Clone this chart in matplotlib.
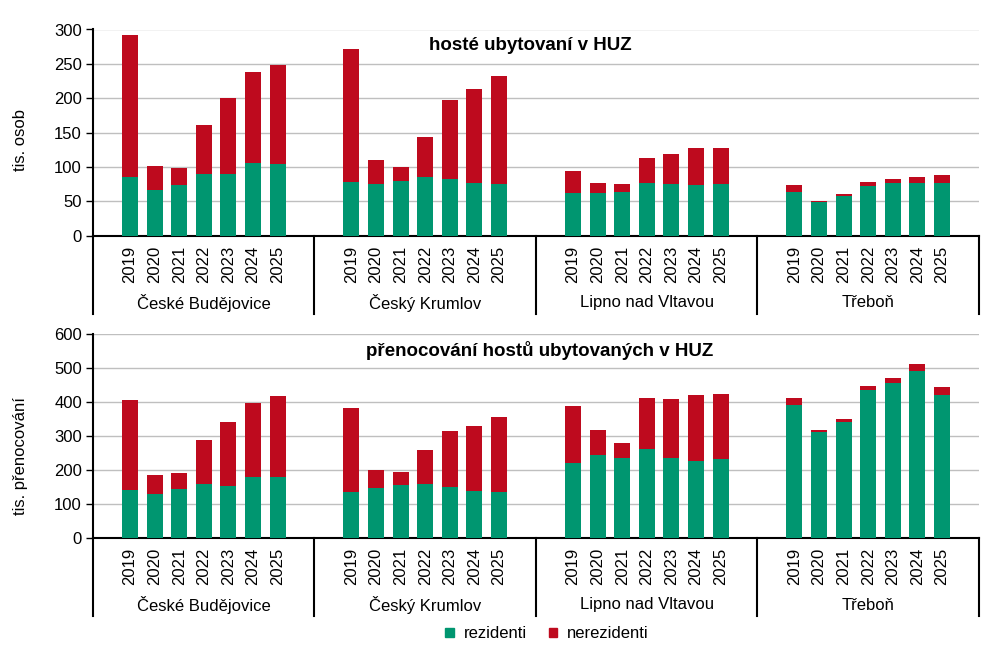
import matplotlib
matplotlib.use("Agg")
import matplotlib.pyplot as plt
from matplotlib.patches import Patch
import matplotlib.transforms as mtransforms

plt.rcParams['font.family'] = ['Liberation Sans', 'DejaVu Sans']

# Data (thousands)
towns = ["České Budějovice", "Český Krumlov", "Lipno nad Vltavou", "Třeboň"]
years = ["2019", "2020", "2021", "2022", "2023", "2024", "2025"]

# guests - residents / total
guests_res = [
    [85, 66, 74, 90, 90, 106, 104],
    [78, 75, 80, 85, 82, 77, 75],
    [62, 62, 64, 77, 75, 74, 75],
    [64, 49, 58, 72, 77, 77, 77],
]
guests_total = [
    [292, 101, 98, 161, 200, 238, 248],
    [271, 110, 100, 144, 197, 213, 232],
    [94, 77, 75, 113, 119, 128, 128],
    [74, 50, 61, 78, 82, 85, 88],
]

# overnight stays - residents / total
nights_res = [
    [141, 129, 144, 160, 153, 179, 179],
    [135, 147, 156, 159, 150, 138, 135],
    [221, 244, 236, 262, 236, 227, 232],
    [391, 313, 342, 436, 456, 491, 421],
]
nights_total = [
    [406, 185, 191, 288, 341, 397, 418],
    [382, 200, 194, 259, 315, 329, 356],
    [388, 318, 279, 412, 409, 421, 424],
    [412, 318, 350, 447, 471, 512, 444],
]

green = '#009670'
red = '#BE0A1E'
grid_c = '#BFBFBF'
W, H = 1004, 650

fig = plt.figure(figsize=(W / 100, H / 100), dpi=100)


def panel(rect_px, res, total, ymax, ystep, title, title_px, ylabel, label_y):
    left, top, right, bottom = rect_px
    ax = fig.add_axes([left / W, 1 - bottom / H, (right - left) / W, (bottom - top) / H])
    ax_h = bottom - top

    xs, labels = [], []
    for g in range(len(towns)):
        for i, yr in enumerate(years):
            xs.append(g * 9 + 1 + i)
            labels.append(yr)
    r = [v for row in res for v in row]
    n = [t - v for row_r, row_t in zip(res, total) for v, t in zip(row_r, row_t)]

    ax.bar(xs, r, width=0.65, color=green, zorder=3)
    ax.bar(xs, n, width=0.65, bottom=r, color=red, zorder=3)

    ax.set_xlim(-0.5, 35.5)
    ax.set_ylim(0, ymax)
    ax.set_yticks(range(0, ymax + 1, ystep))
    ax.yaxis.grid(True, color=grid_c, linewidth=1.0, zorder=0)
    ax.set_axisbelow(True)
    for s in ['top', 'right']:
        ax.spines[s].set_visible(False)
    ax.spines['left'].set_linewidth(1.5)
    ax.spines['bottom'].set_linewidth(1.5)
    ax.tick_params(axis='y', labelsize=12, length=5, width=1, pad=3, colors='black')
    ax.set_xticks(xs)
    ax.set_xticklabels(labels, rotation=90, fontsize=12)
    ax.tick_params(axis='x', length=0, pad=7)

    ax.set_ylabel(ylabel, fontsize=12)
    ax.yaxis.set_label_coords(-0.073, label_y)

    # group separators and town labels below the axis
    trans = mtransforms.blended_transform_factory(ax.transData, ax.transAxes)
    for xb in [-0.5, 8.5, 17.5, 26.5, 35.5]:
        ax.plot([xb, xb], [0, -78 / ax_h], color='black', linewidth=1.5,
                transform=trans, clip_on=False)
    for g, town in enumerate(towns):
        ax.text(g * 9 + 4, -67 / ax_h, town, transform=trans, ha='center',
                va='center', fontsize=12)

    fig.text(title_px[0] / W, 1 - title_px[1] / H, title, ha='center', va='center',
             fontsize=13.5, fontweight='bold')
    return ax


panel((93, 29.5, 979, 235.7), guests_res, guests_total, 300, 50,
      "hosté ubytovaní v HUZ", (530, 46), "tis. osob", 0.465)
panel((93, 334, 979, 538), nights_res, nights_total, 600, 100,
      "přenocování hostů ubytovaných v HUZ", (540, 350), "tis. přenocování", 0.40)

handles = [Patch(color=green, label='rezidenti'), Patch(color=red, label='nerezidenti')]
fig.legend(handles=handles, loc='center', bbox_to_anchor=(547 / W, 1 - 634 / H), ncol=2,
           frameon=False, fontsize=12, handlelength=0.5, handleheight=0.5,
           handletextpad=0.6, columnspacing=1.3)

fig.savefig("out.png", dpi=100)
